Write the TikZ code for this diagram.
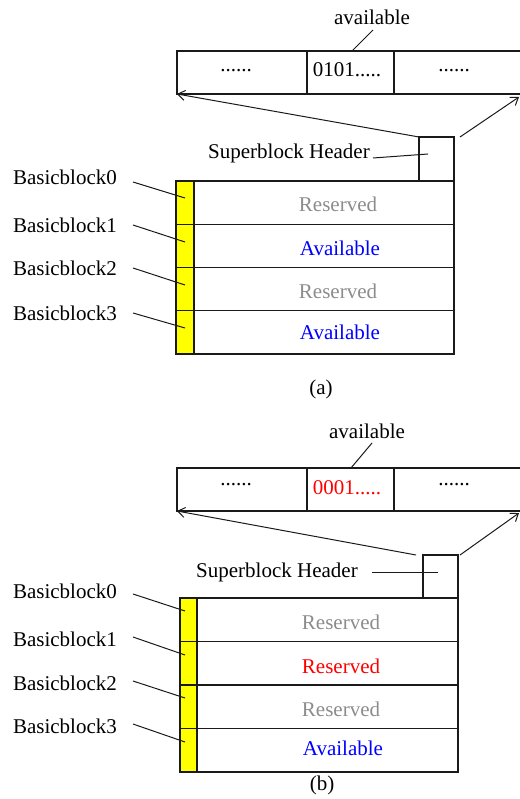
\documentclass[tikz,border=0pt]{standalone}
\usepackage{fontspec}
\setmainfont{Liberation Serif}
\usetikzlibrary{arrows.meta}
\definecolor{ink}{HTML}{1A1A1A}
\definecolor{greytxt}{HTML}{8C8C8C}
\definecolor{hdryellow}{HTML}{FFFF00}
\tikzset{
  cell/.style={draw=ink, line width=1.2pt, inner sep=0pt, outer sep=0pt, anchor=north west},
  hdr/.style={cell, fill=hdryellow, minimum width=18},
  txt/.style={inner sep=0pt, outer sep=0pt, anchor=base, font=\fontsize{21}{25}\selectfont},
  lbl/.style={txt, anchor=base west},
  lead/.style={draw=ink, line width=1pt},
  ptr/.style={draw=ink, line width=1pt, -{Straight Barb[length=7pt,width=10pt]}},
}
\begin{document}
\begin{tikzpicture}[x=1pt, y=-1pt]
\useasboundingbox (0,0) rectangle (519,799);

% ---------------- (a) ----------------
% bitmap bar
\node[cell, minimum width=130, minimum height=43] (abarL) at (177,51) {};
\node[cell, minimum width=87,  minimum height=43] (abarM) at (307,51) {};
\node[cell, minimum width=127, minimum height=43] (abarR) at (394,51) {};
\node[txt] (adotsL) at (236,72) {......};
\node[txt] (abits)  at (347,77) {0101.....};
\node[txt] (adotsR) at (454,72) {......};
\node[txt] (aavail) at (372,25) {available};
\coordinate (aavailA) at (373,30);
\coordinate (aavailB) at (352,51);
\draw[lead] (aavailA) -- (aavailB);

% superblock header
\node[cell, minimum width=35, minimum height=44] (asb) at (419,137) {};
\node[txt] (asbtxt) at (289,159) {Superblock Header};
\coordinate (asbA) at (373,158);
\coordinate (asbB) at (428,154);
\draw[lead] (asbA) -- (asbB);
\coordinate (aptrR) at (519,97);
\draw[ptr] (asb.north west) -- (abarL.south west);
\draw[ptr] ([xshift=6]asb.north east) -- (aptrR);

% basic blocks
\foreach \i/\txt/\col in {0/Reserved/greytxt, 1/Available/blue, 2/Reserved/greytxt, 3/Available/blue} {
  \node[hdr, minimum height=43.25] (ay\i) at (176,{181+43.25*\i}) {};
  \node[cell, minimum width=260, minimum height=43.25] (ar\i) at (194,{181+43.25*\i}) {};
}
\node[txt, text=greytxt] (at0) at (338,212) {Reserved};
\node[txt, text=blue]    (at1) at (340,255) {Available};
\node[txt, text=greytxt] (at2) at (338,298) {Reserved};
\node[txt, text=blue]    (at3) at (340,339) {Available};

\node[lbl] (ab0) at (13,185) {Basicblock0};
\node[lbl] (ab1) at (13,233) {Basicblock1};
\node[lbl] (ab2) at (13,276) {Basicblock2};
\node[lbl] (ab3) at (13,320) {Basicblock3};
\coordinate (abA0) at (133,182); \coordinate (abB0) at (185,198);
\coordinate (abA1) at (133,225); \coordinate (abB1) at (185,242);
\coordinate (abA2) at (133,268); \coordinate (abB2) at (185,285);
\coordinate (abA3) at (133,313); \coordinate (abB3) at (185,328);
\foreach \i in {0,1,2,3} { \draw[lead] (abA\i) -- (abB\i); }

\node[txt] (acap) at (321,394) {(a)};

% ---------------- (b) ----------------
\node[cell, minimum width=130, minimum height=43] (bbarL) at (177,468) {};
\node[cell, minimum width=87,  minimum height=43] (bbarM) at (307,468) {};
\node[cell, minimum width=127, minimum height=43] (bbarR) at (394,468) {};
\node[txt] (bdotsL) at (236,485) {......};
\node[txt, text=red] (bbits) at (347,494) {0001.....};
\node[txt] (bdotsR) at (454,485) {......};
\node[txt] (bavail) at (367,438) {available};
\coordinate (bavailA) at (372,443);
\coordinate (bavailB) at (351,468);
\draw[lead] (bavailA) -- (bavailB);

\node[cell, minimum width=35, minimum height=43] (bsb) at (423,555) {};
\node[txt] (bsbtxt) at (277,577) {Superblock Header};
\coordinate (bsbA) at (372,572);
\coordinate (bsbB) at (438,572);
\draw[lead] (bsbA) -- (bsbB);
\coordinate (bptrR) at (519,513);
\draw[ptr] ([xshift=-7]bsb.north west) -- (bbarL.south west);
\draw[ptr] ([xshift=2]bsb.north east) -- (bptrR);

\foreach \i in {0,1,2,3} {
  \node[hdr, minimum height=43.5, minimum width=17] (by\i) at (180,{598+43.5*\i}) {};
  \node[cell, minimum width=261, minimum height=43.5] (br\i) at (197,{598+43.5*\i}) {};
}
\node[txt, text=greytxt] (bt0) at (341,629) {Reserved};
\node[txt, text=red]     (bt1) at (341,673) {Reserved};
\node[txt, text=greytxt] (bt2) at (341,716) {Reserved};
\node[txt, text=blue]    (bt3) at (343,755) {Available};

\node[lbl] (bb0) at (13,598) {Basicblock0};
\node[lbl] (bb1) at (13,646) {Basicblock1};
\node[lbl] (bb2) at (13,690) {Basicblock2};
\node[lbl] (bb3) at (13,733) {Basicblock3};
\coordinate (bbA0) at (133,594); \coordinate (bbB0) at (185,611);
\coordinate (bbA1) at (133,637); \coordinate (bbB1) at (185,655);
\coordinate (bbA2) at (133,681); \coordinate (bbB2) at (185,698);
\coordinate (bbA3) at (133,724); \coordinate (bbB3) at (185,742);
\foreach \i in {0,1,2,3} { \draw[lead] (bbA\i) -- (bbB\i); }

\node[txt] (bcap) at (322,790) {(b)};
\end{tikzpicture}
\end{document}
